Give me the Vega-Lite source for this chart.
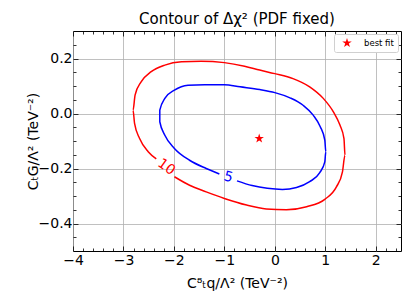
{
  "$schema": "https://vega.github.io/schema/vega-lite/v6.json",
  "width": 328,
  "height": 220,
  "autosize": "none",
  "padding": {"left": 73, "top": 31, "right": 10, "bottom": 57},
  "background": "white",
  "title": {"text": "Contour of Δχ² (PDF fixed)", "font": "DejaVu Sans", "fontSize": 15, "fontWeight": "normal", "color": "black", "offset": 4, "anchor": "middle"},
  "datasets": {
    "contours": [
      {"c": "10", "i": 1, "x": -2.35, "y": -0.165},
      {"c": "10", "i": 2, "x": -2.51, "y": -0.139},
      {"c": "10", "i": 3, "x": -2.68, "y": -0.091},
      {"c": "10", "i": 4, "x": -2.78, "y": -0.036},
      {"c": "10", "i": 5, "x": -2.81, "y": 0.012},
      {"c": "10", "i": 6, "x": -2.77, "y": 0.067},
      {"c": "10", "i": 7, "x": -2.65, "y": 0.115},
      {"c": "10", "i": 8, "x": -2.45, "y": 0.152},
      {"c": "10", "i": 9, "x": -2.18, "y": 0.176},
      {"c": "10", "i": 10, "x": -1.85, "y": 0.188},
      {"c": "10", "i": 11, "x": -1.46, "y": 0.19},
      {"c": "10", "i": 12, "x": -1.0, "y": 0.185},
      {"c": "10", "i": 13, "x": -0.6, "y": 0.172},
      {"c": "10", "i": 14, "x": -0.3, "y": 0.158},
      {"c": "10", "i": 15, "x": 0.0, "y": 0.145},
      {"c": "10", "i": 16, "x": 0.36, "y": 0.127},
      {"c": "10", "i": 17, "x": 0.69, "y": 0.097},
      {"c": "10", "i": 18, "x": 0.96, "y": 0.055},
      {"c": "10", "i": 19, "x": 1.16, "y": 0.006},
      {"c": "10", "i": 20, "x": 1.29, "y": -0.042},
      {"c": "10", "i": 21, "x": 1.37, "y": -0.091},
      {"c": "10", "i": 22, "x": 1.39, "y": -0.152},
      {"c": "10", "i": 23, "x": 1.34, "y": -0.212},
      {"c": "10", "i": 24, "x": 1.22, "y": -0.267},
      {"c": "10", "i": 25, "x": 0.99, "y": -0.312},
      {"c": "10", "i": 26, "x": 0.63, "y": -0.339},
      {"c": "10", "i": 27, "x": 0.23, "y": -0.35},
      {"c": "10", "i": 28, "x": -0.17, "y": -0.347},
      {"c": "10", "i": 29, "x": -0.56, "y": -0.333},
      {"c": "10", "i": 30, "x": -1.0, "y": -0.309},
      {"c": "10", "i": 31, "x": -1.36, "y": -0.285},
      {"c": "10", "i": 32, "x": -1.69, "y": -0.261},
      {"c": "10", "i": 33, "x": -1.99, "y": -0.23},
      {"c": "5", "i": 1, "x": -0.75, "y": -0.245},
      {"c": "5", "i": 2, "x": -0.45, "y": -0.262},
      {"c": "5", "i": 3, "x": -0.15, "y": -0.272},
      {"c": "5", "i": 4, "x": 0.15, "y": -0.276},
      {"c": "5", "i": 5, "x": 0.43, "y": -0.269},
      {"c": "5", "i": 6, "x": 0.69, "y": -0.248},
      {"c": "5", "i": 7, "x": 0.89, "y": -0.215},
      {"c": "5", "i": 8, "x": 0.99, "y": -0.176},
      {"c": "5", "i": 9, "x": 1.01, "y": -0.139},
      {"c": "5", "i": 10, "x": 0.99, "y": -0.097},
      {"c": "5", "i": 11, "x": 0.9, "y": -0.048},
      {"c": "5", "i": 12, "x": 0.76, "y": -0.006},
      {"c": "5", "i": 13, "x": 0.56, "y": 0.03},
      {"c": "5", "i": 14, "x": 0.3, "y": 0.057},
      {"c": "5", "i": 15, "x": 0.0, "y": 0.076},
      {"c": "5", "i": 16, "x": -0.3, "y": 0.087},
      {"c": "5", "i": 17, "x": -0.69, "y": 0.097},
      {"c": "5", "i": 18, "x": -1.0, "y": 0.105},
      {"c": "5", "i": 19, "x": -1.39, "y": 0.105},
      {"c": "5", "i": 20, "x": -1.72, "y": 0.103},
      {"c": "5", "i": 21, "x": -1.99, "y": 0.085},
      {"c": "5", "i": 22, "x": -2.18, "y": 0.055},
      {"c": "5", "i": 23, "x": -2.28, "y": 0.012},
      {"c": "5", "i": 24, "x": -2.28, "y": -0.03},
      {"c": "5", "i": 25, "x": -2.18, "y": -0.079},
      {"c": "5", "i": 26, "x": -1.99, "y": -0.127},
      {"c": "5", "i": 27, "x": -1.69, "y": -0.17},
      {"c": "5", "i": 28, "x": -1.36, "y": -0.2},
      {"c": "5", "i": 29, "x": -1.1, "y": -0.22}
    ],
    "bestfit": [{"name": "best fit", "x": -0.31, "y": -0.091}],
    "clabels": [
      {"c": "10", "x": -2.15, "y": -0.195},
      {"c": "5", "x": -0.92, "y": -0.232}
    ]
  },
  "layer": [
    {
      "data": {"name": "contours"},
      "transform": [{"filter": "datum.c === '10'"}],
      "mark": {"type": "line", "color": "#ff0000", "strokeWidth": 1.5, "interpolate": "monotone"},
      "encoding": {
        "x": {"field": "x", "type": "quantitative", "scale": {"domain": [-4, 2.5], "nice": false, "zero": false},
          "axis": {"orient": "bottom", "values": [-4, -3.8, -3.6, -3.4, -3.2, -3, -2.8, -2.6, -2.4, -2.2, -2, -1.8, -1.6, -1.4, -1.2, -1, -0.8, -0.6, -0.4, -0.2, 0, 0.2, 0.4, 0.6, 0.8, 1, 1.2, 1.4, 1.6, 1.8, 2, 2.2, 2.4],
            "labelExpr": "datum.value % 1 === 0 ? format(datum.value, 'd') : ''",
            "grid": true,
            "gridOpacity": {"condition": {"test": "datum.value % 1 === 0", "value": 1}, "value": 0},
            "tickSize": {"condition": {"test": "datum.value % 1 === 0", "value": -5}, "value": -3},
            "labelPadding": 7, "title": "C⁸ₜq/Λ² (TeV⁻²)", "titlePadding": 7}},
        "y": {"field": "y", "type": "quantitative", "scale": {"domain": [-0.5, 0.3], "nice": false, "zero": false},
          "axis": {"orient": "left", "values": [-0.45, -0.4, -0.35, -0.3, -0.25, -0.2, -0.15, -0.1, -0.05, 0, 0.05, 0.1, 0.15, 0.2, 0.25],
            "labelExpr": "indexof([-0.4, -0.2, 0, 0.2], datum.value) >= 0 ? format(datum.value, '.1f') : ''",
            "grid": true,
            "gridOpacity": {"condition": {"test": "indexof([-0.4, -0.2, 0, 0.2], datum.value) >= 0", "value": 1}, "value": 0},
            "tickSize": {"condition": {"test": "indexof([-0.4, -0.2, 0, 0.2], datum.value) >= 0", "value": -5}, "value": -3},
            "labelPadding": 6, "title": "CₜG/Λ² (TeV⁻²)", "titlePadding": -2}},
        "order": {"field": "i", "type": "quantitative"}
      }
    },
    {
      "data": {"name": "contours"},
      "transform": [{"filter": "datum.c === '5'"}],
      "mark": {"type": "line", "color": "#0000ff", "strokeWidth": 1.5, "interpolate": "monotone"},
      "encoding": {
        "x": {"field": "x", "type": "quantitative", "scale": {"domain": [-4, 2.5], "nice": false, "zero": false},
          "axis": {"orient": "top", "values": [-4, -3.8, -3.6, -3.4, -3.2, -3, -2.8, -2.6, -2.4, -2.2, -2, -1.8, -1.6, -1.4, -1.2, -1, -0.8, -0.6, -0.4, -0.2, 0, 0.2, 0.4, 0.6, 0.8, 1, 1.2, 1.4, 1.6, 1.8, 2, 2.2, 2.4],
            "labels": false, "grid": false, "title": null,
            "tickSize": {"condition": {"test": "datum.value % 1 === 0", "value": -5}, "value": -3}}},
        "y": {"field": "y", "type": "quantitative", "scale": {"domain": [-0.5, 0.3], "nice": false, "zero": false},
          "axis": {"orient": "right", "values": [-0.45, -0.4, -0.35, -0.3, -0.25, -0.2, -0.15, -0.1, -0.05, 0, 0.05, 0.1, 0.15, 0.2, 0.25],
            "labels": false, "grid": false, "title": null,
            "tickSize": {"condition": {"test": "indexof([-0.4, -0.2, 0, 0.2], datum.value) >= 0", "value": -5}, "value": -3}}},
        "order": {"field": "i", "type": "quantitative"}
      }
    },
    {
      "data": {"name": "bestfit"},
      "mark": {"type": "point", "shape": "M0,-1L0.2245,-0.309L0.951,-0.309L0.363,0.118L0.588,0.809L0,0.382L-0.588,0.809L-0.363,0.118L-0.951,-0.309L-0.2245,-0.309Z", "filled": true, "size": 100, "opacity": 1},
      "encoding": {
        "x": {"field": "x", "type": "quantitative", "scale": {"domain": [-4, 2.5], "nice": false, "zero": false}, "axis": null},
        "y": {"field": "y", "type": "quantitative", "scale": {"domain": [-0.5, 0.3], "nice": false, "zero": false}, "axis": null},
        "color": {"field": "name", "type": "nominal", "scale": {"range": ["#ff0000"]},
          "legend": {"title": null, "orient": "top-right", "offset": 3, "padding": 4, "symbolType": "M0,-1L0.2245,-0.309L0.951,-0.309L0.363,0.118L0.588,0.809L0,0.382L-0.588,0.809L-0.363,0.118L-0.951,-0.309L-0.2245,-0.309Z", "symbolSize": 100, "symbolStrokeWidth": 0, "symbolOffset": 4, "labelFontSize": 8.5, "labelFont": "DejaVu Sans", "labelColor": "black", "strokeColor": "#d0d0d0", "fillColor": "white", "cornerRadius": 2, "labelOffset": 12}}
      }
    },
    {
      "data": {"name": "clabels"},
      "transform": [{"filter": "datum.c === '10'"}],
      "mark": {"type": "text", "color": "#ff0000", "font": "DejaVu Sans", "fontSize": 14, "angle": 35, "align": "center", "baseline": "middle"},
      "encoding": {
        "x": {"field": "x", "type": "quantitative", "scale": {"domain": [-4, 2.5], "nice": false, "zero": false}, "axis": null},
        "y": {"field": "y", "type": "quantitative", "scale": {"domain": [-0.5, 0.3], "nice": false, "zero": false}, "axis": null},
        "text": {"field": "c", "type": "nominal"}
      }
    },
    {
      "data": {"name": "clabels"},
      "transform": [{"filter": "datum.c === '5'"}],
      "mark": {"type": "text", "color": "#0000ff", "font": "DejaVu Sans", "fontSize": 14, "angle": 15, "align": "center", "baseline": "middle"},
      "encoding": {
        "x": {"field": "x", "type": "quantitative", "scale": {"domain": [-4, 2.5], "nice": false, "zero": false}, "axis": null},
        "y": {"field": "y", "type": "quantitative", "scale": {"domain": [-0.5, 0.3], "nice": false, "zero": false}, "axis": null},
        "text": {"field": "c", "type": "nominal"}
      }
    }
  ],
  "resolve": {"axis": {"x": "independent", "y": "independent"}},
  "config": {
    "view": {"stroke": "black", "strokeWidth": 1},
    "axis": {
      "domain": false,
      "labelFont": "DejaVu Sans",
      "labelFontSize": 14,
      "labelColor": "black",
      "titleFont": "DejaVu Sans",
      "titleFontSize": 14,
      "titleFontWeight": "normal",
      "titleColor": "black",
      "tickColor": "black",
      "tickWidth": 0.8,
      "gridColor": "#b0b0b0",
      "gridWidth": 0.8,
      "labelFlush": false,
      "labelOverlap": false
    }
  }
}
